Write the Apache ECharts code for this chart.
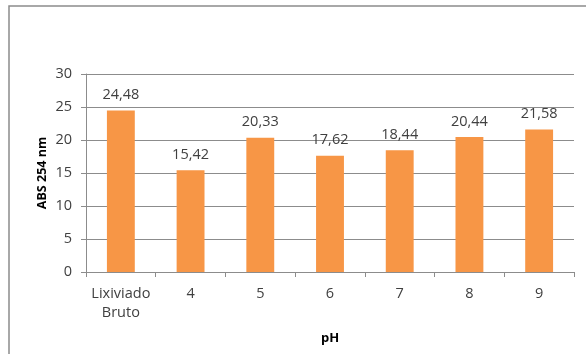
<!DOCTYPE html>
<html>
<head>
<meta charset="utf-8">
<script src="https://cdn.jsdelivr.net/npm/echarts@6/dist/echarts.min.js"></script>
<style>
  html, body { margin: 0; padding: 0; background: #fff; }
  #chart { width: 586px; height: 354px; }
</style>
</head>
<body>
<div id="chart"></div>
<script>
// Absorbance at 254 nm of the raw leachate and after pH adjustment
const categories = ['Lixiviado\nBruto', '4', '5', '6', '7', '8', '9'];
const absValues = [24.48, 15.42, 20.33, 17.62, 18.44, 20.44, 21.58];
const yTicks = { min: 0, max: 30, interval: 5 };

const font = '"Open Sans", "Noto Sans", sans-serif';
const textColor = '#404040';
const lineColor = '#8c8c8c';

const chart = echarts.init(document.getElementById('chart'), null, { renderer: 'canvas' });
chart.setOption({
  animation: false,
  backgroundColor: '#ffffff',
  graphic: [{
    type: 'rect',
    shape: { x: 9, y: 6, width: 640, height: 400 },
    style: { fill: 'none', stroke: lineColor, lineWidth: 1.5 },
    silent: true
  }],
  grid: { left: 86, right: 12, top: 74, bottom: 82, containLabel: false },
  xAxis: {
    type: 'category',
    data: categories,
    name: 'pH',
    nameLocation: 'middle',
    nameGap: 60,
    nameMoveOverlap: false,
    nameTextStyle: { fontFamily: font, fontSize: 13, fontWeight: 'bold', color: '#000' },
    axisLine: { lineStyle: { color: lineColor, width: 1 } },
    axisTick: { show: true, interval: 0, length: 5, lineStyle: { color: lineColor } },
    axisLabel: { interval: 0, margin: 12, fontFamily: font, fontSize: 14.5, color: textColor, lineHeight: 19 }
  },
  yAxis: {
    type: 'value',
    min: yTicks.min,
    max: yTicks.max,
    interval: yTicks.interval,
    name: 'ABS 254 nm',
    nameLocation: 'middle',
    nameGap: 37,
    nameMoveOverlap: false,
    nameRotate: 90,
    nameTextStyle: { fontFamily: font, fontSize: 12.5, fontWeight: 'bold', color: '#000' },
    axisLine: { show: true, lineStyle: { color: lineColor, width: 1 } },
    axisTick: { show: true, length: 5, lineStyle: { color: lineColor } },
    axisLabel: { margin: 14, fontFamily: font, fontSize: 14.5, color: textColor },
    splitLine: { show: true, lineStyle: { color: lineColor, width: 1 } }
  },
  series: [{
    type: 'bar',
    data: absValues,
    barCategoryGap: '60%',
    itemStyle: { color: '#F79646' },
    label: {
      show: true,
      position: 'top',
      distance: 8,
      fontFamily: font,
      fontSize: 14.5,
      color: textColor,
      formatter: p => p.value.toFixed(2).replace('.', ',')
    }
  }]
});
</script>
</body>
</html>
